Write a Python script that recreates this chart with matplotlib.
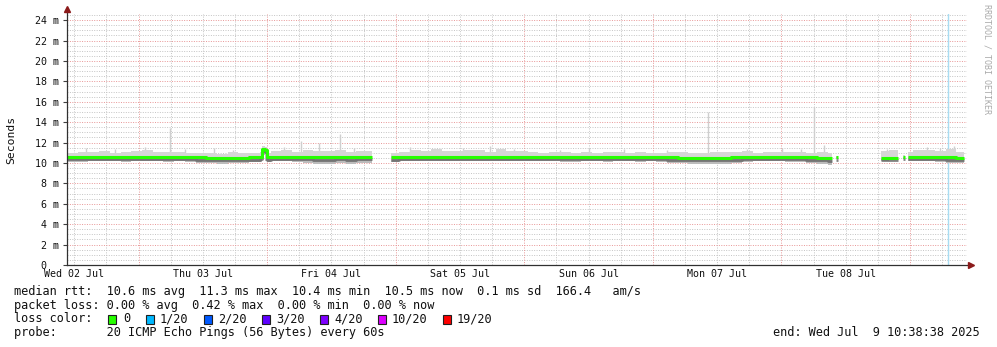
import numpy as np
import matplotlib
matplotlib.use('Agg')
import matplotlib.pyplot as plt
import matplotlib.dates as mdates
import matplotlib.transforms as mtransforms
from matplotlib.patches import Rectangle
from datetime import datetime, timedelta

nan = np.nan

start = datetime(2025, 7, 2, 10, 38, 38)
end = datetime(2025, 7, 9, 10, 38, 38)

# hours after start (each value holds until the next hour entry), nan marks where a gap begins
hours = [0, 2, 4, 6, 8, 10, 12, 14, 16, 18, 20, 22, 24, 26, 28, 30, 32, 34, 36, 36.4, 37.0, 37.4,
         38, 40, 42, 44, 46, 48, 50, 52, 54, 56.9,
         60.4, 62, 64, 66, 68, 70, 72, 74, 76, 78, 80, 82, 84, 86, 88, 90, 92, 94, 96, 98, 100,
         102, 104, 106, 108, 110, 112, 114, 116, 118, 120, 122, 124, 126, 128, 130, 132, 134,
         136, 138, 140, 142, 142.8,
         143.6, 144.0,
         152, 153.5, 155.1,
         156.1, 156.5,
         157, 158, 160, 162, 164, 166, 167.5]

# median rtt (ms)
median = [10.58, 10.60, 10.60, 10.62, 10.60, 10.58, 10.60, 10.62, 10.60, 10.58, 10.60, 10.58, 10.55,
          10.52, 10.50, 10.52, 10.50, 10.55, 10.58, 11.35, 11.30, 10.55, 10.62, 10.62, 10.60, 10.58,
          10.55, 10.55, 10.58, 10.55, 10.58, nan,
          10.55, 10.62, 10.62, 10.60, 10.62, 10.62, 10.60, 10.62, 10.62, 10.60, 10.62, 10.60, 10.62,
          10.60, 10.60, 10.62, 10.60, 10.58, 10.60, 10.60, 10.58, 10.60, 10.60, 10.58, 10.60,
          10.58, 10.55, 10.52, 10.50, 10.48, 10.50, 10.52, 10.55, 10.58, 10.60, 10.60, 10.62,
          10.60, 10.58, 10.55, 10.48, 10.45, nan,
          10.55, nan,
          10.50, 10.52, nan,
          10.58, nan,
          10.58, 10.60, 10.62, 10.58, 10.55, 10.50, nan]

# lowest ping of each step (ms)
smoke_lo = [10.05, 10.10, 10.15, 10.20, 10.15, 10.10, 10.15, 10.20, 10.15, 10.10, 10.15, 10.10, 10.00,
            9.95, 9.90, 9.95, 9.95, 10.05, 10.10, 10.80, 10.20, 10.10, 10.15, 10.15, 10.05, 9.95,
            9.90, 9.90, 9.95, 9.90, 9.95, nan,
            10.10, 10.15, 10.20, 10.20, 10.15, 10.20, 10.20, 10.15, 10.20, 10.20, 10.15, 10.20, 10.15,
            10.15, 10.20, 10.15, 10.10, 10.10, 10.15, 10.15, 10.10, 10.15, 10.15, 10.10, 10.15,
            10.05, 10.00, 9.95, 9.85, 9.85, 9.90, 9.90, 10.00, 10.10, 10.15, 10.15, 10.15,
            10.10, 10.05, 9.95, 9.85, 9.80, nan,
            10.40, nan,
            10.20, 10.25, nan,
            10.40, nan,
            10.15, 10.20, 10.15, 10.05, 10.00, 9.95, nan]

# highest ping of each step (ms)
smoke_hi = [11.00, 11.10, 11.05, 11.20, 11.00, 11.05, 11.15, 11.30, 11.10, 11.05, 11.10, 11.00, 10.95,
            11.00, 10.90, 11.05, 11.00, 10.95, 11.05, 11.70, 11.60, 11.00, 11.20, 11.30, 11.10, 11.25,
            11.15, 11.20, 11.30, 11.10, 11.15, nan,
            11.00, 11.10, 11.30, 11.20, 11.40, 11.15, 11.20, 11.30, 11.25, 11.10, 11.35, 11.20, 11.15,
            11.05, 11.00, 11.10, 11.05, 11.00, 11.10, 11.00, 11.05, 11.10, 11.00, 11.05, 11.00,
            11.00, 11.05, 11.10, 11.00, 10.95, 11.05, 11.10, 11.05, 11.15, 11.00, 11.10, 11.05,
            11.05, 11.10, 11.00, 11.05, 10.95, nan,
            10.70, nan,
            11.20, 11.25, nan,
            10.75, nan,
            11.10, 11.25, 11.30, 11.20, 11.35, 11.05, nan]

# single outlier pings
spike_hours = [3.5, 9.0, 14.5, 19.2, 22.0, 27.5, 31.0, 40.5, 43.6, 47.0, 51.0, 53.5, 64.0, 68.5,
               74.0, 79.0, 83.5, 92.0, 97.5, 104.0, 112.0, 119.7, 127.0, 133.5, 137.0, 139.5,
               141.3, 153.0, 160.5, 163.0, 165.5]
spike_tops = [11.5, 11.4, 11.6, 13.4, 11.4, 11.5, 11.3, 11.6, 12.2, 12.0, 12.8, 11.5, 11.6, 11.4,
              11.5, 11.7, 11.4, 11.3, 11.5, 11.4, 11.3, 15.0, 11.4, 11.5, 11.4, 15.5,
              11.8, 11.4, 11.6, 11.5, 11.7]

event_hour = 164.5

rtt_stats = [10.6, 11.3, 10.4, 10.5]
rtt_sd = 0.1
rtt_am = 166.4
loss_stats = [0.00, 0.42, 0.00, 0.00]

loss_labels = ['0', '1/20', '2/20', '3/20', '4/20', '10/20', '19/20']
loss_colors = ['#26ff00', '#00b8ff', '#0059ff', '#5e00ff', '#7e00ff', '#dd00ff', '#ff0000']


def runs(values):
    # split at the nan entries; the hour of a nan entry closes the run before it
    out = []
    i = 0
    n = len(hours)
    while i < n:
        if np.isnan(values[i]):
            i += 1
            continue
        j = i
        while j < n and not np.isnan(values[j]):
            j += 1
        if j < n:
            xs = [start + timedelta(hours=h) for h in hours[i:j + 1]]
            ys = list(values[i:j]) + [values[j - 1]]
        else:
            xs = [start + timedelta(hours=h) for h in hours[i:n]]
            ys = list(values[i:n])
        out.append((xs, ys))
        i = j
    return out


spike_times = [start + timedelta(hours=h) for h in spike_hours]
event_time = start + timedelta(hours=event_hour)

W, H = 997, 347
fig = plt.figure(figsize=(W / 100, H / 100), dpi=100)
fig.patch.set_facecolor('white')
ax = fig.add_axes([67 / W, (H - 265) / H, (967 - 67) / W, (265 - 14) / H])

mono = 'DejaVu Sans Mono'

# smoke
ax.vlines(spike_times, 10.6, spike_tops, color='#cfcfcf', lw=1, zorder=2)
for (xs, lo), (_, hi), (_, md) in zip(runs(smoke_lo), runs(smoke_hi), runs(median)):
    ax.fill_between(xs, lo, hi, step='post', color='#d6d6d6', lw=0, zorder=2)
    ax.fill_between(xs, lo, md, step='post', color='#bcbcbc', lw=0, zorder=2)
dark = mtransforms.offset_copy(ax.transData, fig=fig, y=-1.6, units='points')
for xs, ys in runs(median):
    ax.plot(xs, ys, drawstyle='steps-post', color='#626262', lw=2.0, alpha=0.8,
            transform=dark, zorder=3, solid_capstyle='butt')
    ax.plot(xs, ys, drawstyle='steps-post', color=loss_colors[0], lw=2.2, zorder=4,
            solid_capstyle='butt')
ax.axvline(event_time, color='#a8dcf2', lw=1, zorder=1)

ax.set_xlim(start, end)
ax.set_ylim(0, 24.6)

# ticks and grid
ax.set_yticks(np.arange(0, 25, 2))
ax.yaxis.set_major_formatter(plt.FuncFormatter(lambda v, p: '0  ' if v == 0 else '%d m' % v))
ax.xaxis.set_major_locator(mdates.HourLocator(byhour=[12]))
ax.xaxis.set_major_formatter(mdates.DateFormatter('%a %d %b'))
ax.grid(False)
dot = (0, (1, 1.5))
for y in np.arange(0.5, 24.6, 0.5):
    if abs(y / 2 - round(y / 2)) > 1e-6:
        ax.axhline(y, color='#c4c4c4', lw=0.7, ls=dot, zorder=0)
for t in mdates.HourLocator(byhour=[6, 12, 18]).tick_values(start, end):
    ax.axvline(mdates.num2date(t), color='#c4c4c4', lw=0.7, ls=dot, zorder=0)
for y in np.arange(2, 25, 2):
    ax.axhline(y, color='#e89696', lw=0.7, ls=dot, zorder=0.5)
for t in mdates.DayLocator().tick_values(start, end):
    ax.axvline(mdates.num2date(t), color='#e89696', lw=0.7, ls=dot, zorder=0.5)

ax.tick_params(axis='y', which='major', length=3, width=0.8, color='#404040', pad=3,
               labelsize=7.2, labelcolor='#101010')
ax.tick_params(axis='x', which='both', length=0, pad=3, labelsize=7.2, labelcolor='#101010')
for lab in ax.get_xticklabels() + ax.get_yticklabels():
    lab.set_family(mono)

for s in ['top', 'right', 'left', 'bottom']:
    ax.spines[s].set_visible(False)
# axes with arrow heads
ax.plot([0, 0], [0, 1.015], transform=ax.transAxes, color='#303030', lw=0.9, clip_on=False, zorder=5)
ax.plot([0, 1.003], [0, 0], transform=ax.transAxes, color='#303030', lw=0.9, clip_on=False, zorder=5)
ax.plot([0], [1.02], marker='^', ms=4, color='#8b1a1a', transform=ax.transAxes, clip_on=False, zorder=6)
ax.plot([1.004], [0], marker='>', ms=4, color='#8b1a1a', transform=ax.transAxes, clip_on=False, zorder=6)

fig.text(11 / W, 1 - 139.5 / H, 'Seconds', rotation=90, ha='center', va='center',
         family=mono, fontsize=8.2, color='#101010')
fig.text(987 / W, 1 - 4 / H, 'RRDTOOL / TOBI OETIKER', rotation=270, ha='center', va='top',
         family=mono, fontsize=6, color='#aaaaaa')

# legend
fs = 8.55
x0 = 14 / W
row1 = 'median rtt:  %.1f ms avg  %.1f ms max  %.1f ms min  %.1f ms now  %.1f ms sd  %.1f   am/s' % (
    rtt_stats[0], rtt_stats[1], rtt_stats[2], rtt_stats[3], rtt_sd, rtt_am)
row2 = 'packet loss: %.2f %% avg  %.2f %% max  %.2f %% min  %.2f %% now' % tuple(loss_stats)
fig.text(x0, 1 - 291.5 / H, row1, family=mono, fontsize=fs, va='center', color='#101010')
fig.text(x0, 1 - 305 / H, row2, family=mono, fontsize=fs, va='center', color='#101010')
fig.text(x0, 1 - 319 / H, 'loss color:', family=mono, fontsize=fs, va='center', color='#101010')
box_x = [108, 146, 204, 262, 320, 378, 443]
text_x = [123, 160, 218, 276, 334, 392, 457]
for bx, tx, lab, col in zip(box_x, text_x, loss_labels, loss_colors):
    fig.patches.append(Rectangle((bx / W, 1 - 323.5 / H), 8 / W, 9 / H, transform=fig.transFigure,
                                 facecolor=col, edgecolor='#202020', lw=0.8))
    fig.text(tx / W, 1 - 319 / H, lab, family=mono, fontsize=fs, va='center', color='#101010')
fig.text(x0, 1 - 332.7 / H, 'probe:       20 ICMP Echo Pings (56 Bytes) every 60s',
         family=mono, fontsize=fs, va='center', color='#101010')
fig.text(980 / W, 1 - 332.7 / H, 'end: Wed Jul  9 10:38:38 2025', family=mono, fontsize=fs,
         va='center', ha='right', color='#101010')

fig.savefig('out.png', dpi=100, facecolor='white')
